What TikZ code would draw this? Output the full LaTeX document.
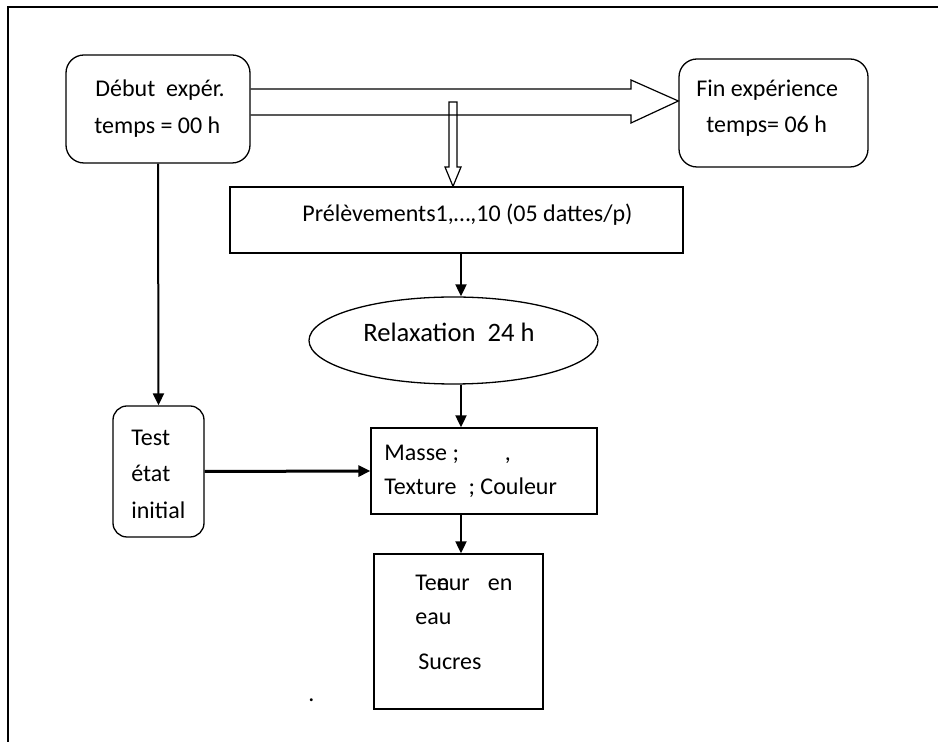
\documentclass[tikz,border=0pt]{standalone}
\usepackage{fontspec}
\setmainfont{Carlito}
\usetikzlibrary{arrows.meta,shapes.geometric}

\begin{document}
\begin{tikzpicture}[x=0.5pt,y=-0.5pt,
        box/.style={draw,line width=0.65pt,inner sep=0pt},
        rbox/.style={box,rounded corners=9pt},
        txt/.style={anchor=base west,inner sep=0pt,font=\fontsize{12}{14}\selectfont},
        link/.style={line width=1pt,-{Triangle[length=6pt,width=5.5pt]}}]

        \useasboundingbox (0,0) rectangle (938,742);
        \draw [line width=0.6pt] (8,742) -- (8,7) -- (938,7);

        \node [rbox,minimum width=92pt,minimum height=54pt] (debut) at (158,109) {};
        \node [rbox,minimum width=94.5pt,minimum height=54pt] (fin) at (773.5,113) {};
        \node [box,minimum width=226.5pt,minimum height=33pt] (prel) at (456.5,220) {};
        \node [box,ellipse,minimum width=144.5pt,minimum height=43.5pt] (relax) at (453.5,340.5) {};
        \node [box,minimum width=113pt,minimum height=43pt] (masse) at (484,471) {};
        \node [box,minimum width=84.5pt,minimum height=77.5pt] (teneur) at (458.5,631.5) {};
        \node [rbox,rounded corners=7pt,minimum width=45.5pt,minimum height=65.5pt] (test) at (158.5,471.5) {};

        \draw [line width=0.6pt] (debut.east |- 0,89) -- (631,89) -- (631,80) -- (fin.west |- 0,101)
            -- (631,123) -- (631,115) -- (debut.east |- 0,115);
        \draw [line width=0.6pt] (449,102) -- (457,102) -- (457,167) -- (461,167) -- (prel.north -| 453,0)
            -- (445,167) -- (449,167) -- cycle;

        \coordinate (axe) at (461,0);
        \draw [link] (debut.south) -- (test.north);
        \draw [link] (prel.south -| axe) -- (relax.north -| axe);
        \draw [link] (relax.south -| axe) -- (masse.north -| axe);
        \draw [link] (masse.south -| axe) -- (teneur.north -| axe);
        \draw [link,line width=1.5pt] (test.east) -- (masse.west);

        \node [txt] (debuta) at (95,97) {Début\ \ expér.};
        \node [txt] (debutb) at (94,134) {temps = 00 h};
        \node [txt] (fina) at (696,97) {Fin expérience};
        \node [txt] (finb) at (706,133) {temps= 06 h};
        \node [txt] (prelt) at (302,222) {Prélèvements1,…,10 (05 dattes/p)};
        \node [txt,font=\fontsize{13.3}{15}\selectfont] (relaxt) at (363,342) {Relaxation\ \ 24 h};
        \node [txt] (massea) at (384,461) {Masse ;\hspace{23pt},};
        \node [txt] (masseb) at (384,495) {Texture\hspace{6pt}; Couleur};
        \node [txt] (testa) at (131,446) {Test};
        \node [txt] (testb) at (131,482) {état};
        \node [txt] (testc) at (131,519) {initial};
        \node [txt] (teneura) at (415,591) {Te\rlap{n}eur\hspace{9pt}en};
        \node [txt] (teneurb) at (415,625) {eau};
        \node [txt] (teneurc) at (418,670) {Sucres};
        \node [txt] (point) at (308,702) {.};

    \end{tikzpicture}
\end{document}
